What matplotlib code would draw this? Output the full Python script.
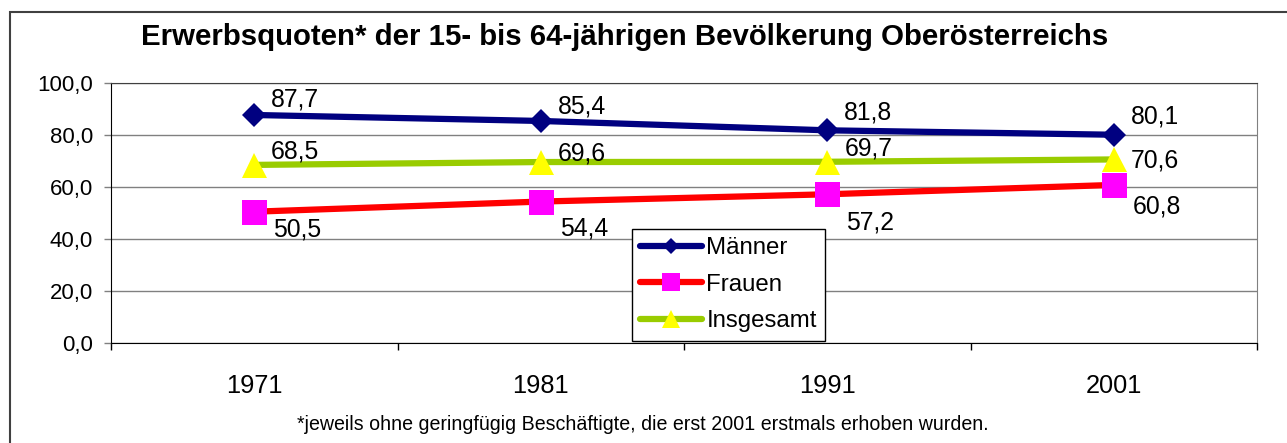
import matplotlib
matplotlib.use("Agg")
import matplotlib.pyplot as plt
from matplotlib.patches import Rectangle
import numpy as np

plt.rcParams['font.family'] = ['Liberation Sans', 'DejaVu Sans']

years = ["1971", "1981", "1991", "2001"]
maenner = [87.7, 85.4, 81.8, 80.1]
frauen = [50.5, 54.4, 57.2, 60.8]
insgesamt = [68.5, 69.6, 69.7, 70.6]
yticks = [0, 20, 40, 60, 80, 100]

title = "Erwerbsquoten* der 15- bis 64-jährigen Bevölkerung Oberösterreichs"
note = "*jeweils ohne geringfügig Beschäftigte, die erst 2001 erstmals erhoben wurden."


def de(v):
    # german decimal comma
    return f"{v:.1f}".replace(".", ",")


fig = plt.figure(figsize=(12.87, 4.43), dpi=100)
W, H = 1287, 443

# outer chart border (right/bottom edge cut off in the original)
fig.patches.append(Rectangle((10 / W, -0.2), 1.2, 1.2 - 12 / H,
                             transform=fig.transFigure, fill=False,
                             edgecolor="#404040", linewidth=1.5))

ax = fig.add_axes([111 / W, 100 / H, 1146 / W, 260 / H])
x = np.arange(len(years))

series = [
    ("Männer", maenner, "#000080", "D", "#000080", 12, [15, 14, 18, 18], 17),
    ("Frauen", frauen, "#FF0000", "s", "#FF00FF", 18, [-18, -27, -28, -22], 19),
    ("Insgesamt", insgesamt, "#99CC00", "^", "#FFFF00", 18, [13, 9, 13, -1], 17),
]

for name, vals, lc, mk, mc, ms, dys, dx in series:
    ax.plot(x, vals, color=lc, lw=4.5, marker=mk, markersize=ms,
            markerfacecolor=mc, markeredgecolor=mc, markeredgewidth=0,
            label=name, zorder=3, solid_capstyle="round")
    for xi, v, dy in zip(x, vals, dys):
        ax.annotate(de(v), (xi, v), xytext=(dx, dy), textcoords="offset pixels",
                    ha="left", va="center", fontsize=17.8, zorder=4)

ax.set_xlim(-0.5, len(years) - 0.5)
ax.set_ylim(0, 100)
ax.set_yticks(yticks)
ax.set_yticklabels([de(v) for v in yticks])
ax.tick_params(axis="y", direction="out", length=5, width=1, pad=8,
               labelsize=16, color="#808080")
ax.set_xticks(x)
ax.set_xticklabels(years)
ax.tick_params(axis="x", which="major", length=0, pad=22, labelsize=18.3)
ax.set_xticks(np.arange(-0.5, len(years), 1), minor=True)
ax.tick_params(axis="x", which="minor", direction="out", length=5, width=1,
               color="black")

ax.yaxis.grid(True, color="#808080", lw=1)
ax.set_axisbelow(True)
ax.spines["left"].set_color("black")
ax.spines["bottom"].set_color("black")
ax.spines["top"].set_color("#404040")
ax.spines["right"].set_color("#808080")

leg = ax.legend(loc="upper left", bbox_to_anchor=((632 - 111) / 1146, (343 - 229) / 260),
                borderaxespad=0, fontsize=17.3, markerscale=0.7, handlelength=2.55,
                handletextpad=0.2, borderpad=0.35, labelspacing=0.6,
                fancybox=False, framealpha=1, edgecolor="black")
leg.get_frame().set_linewidth(1)

fig.text(625 / W, 1 - 37 / H, title, ha="center", va="center",
         fontsize=21.2, fontweight="bold")
fig.text(643 / W, 1 - 424 / H, note, ha="center", va="center", fontsize=14.1)

fig.savefig("out.png", dpi=100)
